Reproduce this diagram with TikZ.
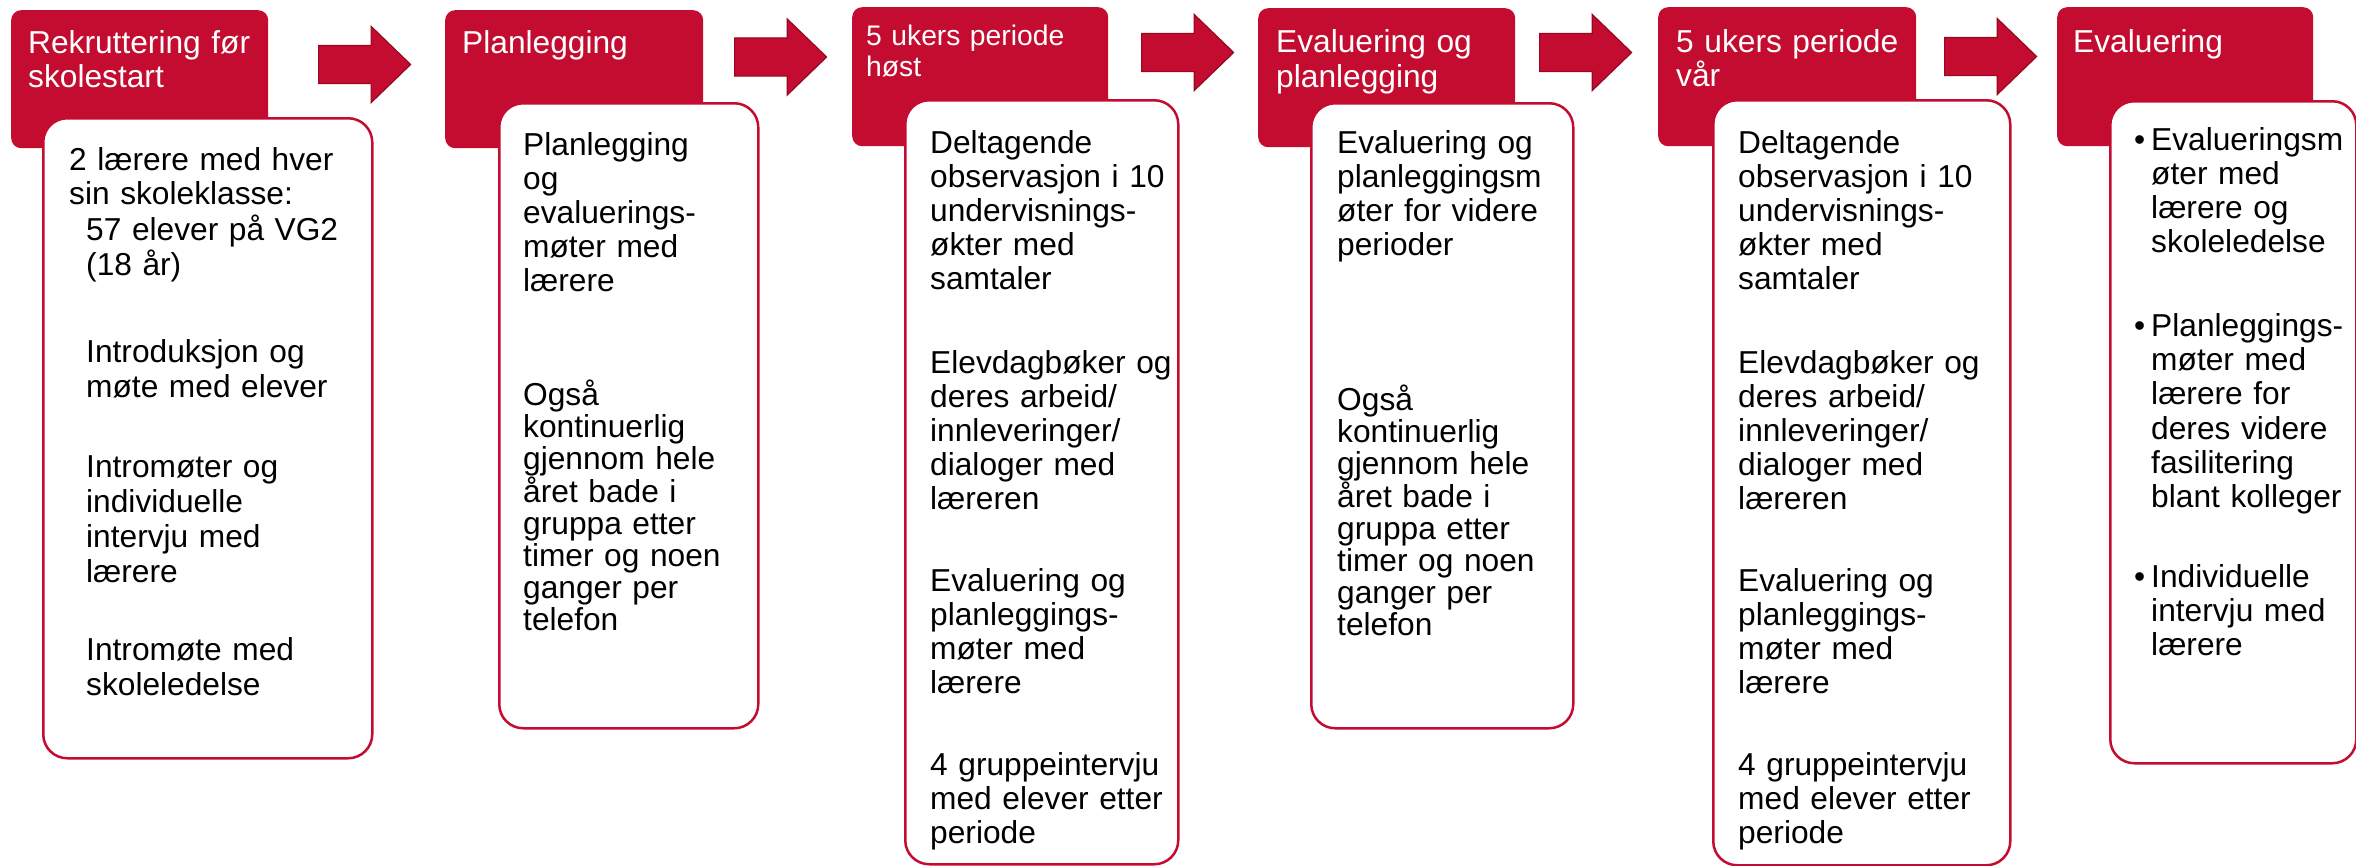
\documentclass[tikz,border=0pt]{standalone}
\usepackage{fontspec}
\setmainfont{Liberation Sans}
\usetikzlibrary{shapes.arrows}
\definecolor{uibred}{RGB}{196,12,48}
\definecolor{arrowedge}{RGB}{150,8,34}
\newcommand{\lead}[1]{\fontsize{31.7pt}{#1}\selectfont}
\newcommand{\bul}{\leavevmode\llap{•\hspace{6pt}}}

\begin{document}
\begin{tikzpicture}[x=1pt,y=-1pt,
	headbox/.style={fill=uibred,rounded corners=10pt,anchor=north west,inner sep=0pt},
	bodybox/.style={draw=uibred,line width=2.5pt,fill=white,rounded corners=24pt,anchor=north west,inner sep=0pt},
	flowarrow/.style={single arrow,fill=uibred,draw=arrowedge,line width=1.2pt,anchor=tail,
	                  minimum height=92pt,single arrow head extend=19pt,
	                  single arrow tip angle=88,inner xsep=0pt,inner ysep=18.5pt}]
	\useasboundingbox (0,0) rectangle (2356,865);

	\node[headbox,minimum width=257pt,minimum height=138pt] (hd1) at (11,10) {};
	\node[headbox,minimum width=258pt,minimum height=138pt] (hd2) at (445,10) {};
	\node[headbox,minimum width=256pt,minimum height=139pt] (hd3) at (852,7) {};
	\node[headbox,minimum width=257pt,minimum height=139pt] (hd4) at (1258,8) {};
	\node[headbox,minimum width=258pt,minimum height=139pt] (hd5) at (1658,7) {};
	\node[headbox,minimum width=256pt,minimum height=139pt] (hd6) at (2057,7) {};

	\node[bodybox,minimum width=329pt,minimum height=640pt] (bd1) at (42,117) {};
	\node[bodybox,minimum width=259pt,minimum height=625pt] (bd2) at (498,102) {};
	\node[bodybox,minimum width=273pt,minimum height=764pt] (bd3) at (904,99) {};
	\node[bodybox,minimum width=262pt,minimum height=625pt] (bd4) at (1310,102) {};
	\node[bodybox,minimum width=297pt,minimum height=765pt] (bd5) at (1712,99) {};
	\node[bodybox,minimum width=246pt,minimum height=662pt] (bd6) at (2109,100) {};

	\node[flowarrow] (ar1) at (318,64.5) {};
	\node[flowarrow] (ar2) at (734,57) {};
	\node[flowarrow] (ar3) at (1141,52.5) {};
	\node[flowarrow] (ar4) at (1539,52.5) {};
	\node[flowarrow] (ar5) at (1944,56.5) {};

	\begin{scope}[every node/.style={anchor=base west,inner sep=0pt,align=left,
	              text width=250pt,text=white,font=\lead{34pt}}]
		\node (ht1) at (28,53) {Rekruttering før\\skolestart};
		\node (ht2) at (462,53) {Planlegging};
		\node[font={\fontsize{28.3pt}{31pt}\selectfont}] (ht3) at (866,45) {5 ukers periode\\høst};
		\node[font=\lead{35pt}] (ht4) at (1276,52) {Evaluering og\\planlegging};
		\node (ht5) at (1676,52) {5 ukers periode\\vår};
		\node (ht6) at (2073,52) {Evaluering};
	\end{scope}

	\begin{scope}[every node/.style={anchor=base west,inner sep=0pt,align=left,
	              text width=290pt,text=black,font=\lead{34pt}}]
		\node (tx1a) at (69,170) {2 lærere med hver\\sin skoleklasse:};
		\node[font=\lead{35pt}] (tx1b) at (86,240) {57 elever på VG2\\(18 år)\\[52pt]
			Introduksjon og\\møte med elever\\[45pt]
			Intromøter og\\individuelle\\intervju med\\lærere\\[43pt]
			Intromøte med\\skoleledelse};
		\node (tx2a) at (523,155) {Planlegging\\og\\evaluerings-\\møter med\\lærere};
		\node[font=\lead{32pt}] (tx2b) at (523,405) {Også\\kontinuerlig\\gjennom hele\\året bade i\\
			gruppa etter\\timer og noen\\ganger per\\telefon};
		\node (tx3) at (930,153) {Deltagende\\observasjon i 10\\undervisnings-\\økter med\\samtaler\\[50pt]
			Elevdagbøker og\\deres arbeid/\\innleveringer/\\dialoger med\\læreren\\[48pt]
			Evaluering og\\planleggings-\\møter med\\lærere\\[48pt]
			4 gruppeintervju\\med elever etter\\periode};
		\node (tx4a) at (1337,153) {Evaluering og\\planleggingsm\\øter for videre\\perioder};
		\node[font=\lead{32pt}] (tx4b) at (1337,410) {Også\\kontinuerlig\\gjennom hele\\året bade i\\
			gruppa etter\\timer og noen\\ganger per\\telefon};
		\node (tx5) at (1738,153) {Deltagende\\observasjon i 10\\undervisnings-\\økter med\\samtaler\\[50pt]
			Elevdagbøker og\\deres arbeid/\\innleveringer/\\dialoger med\\læreren\\[48pt]
			Evaluering og\\planleggings-\\møter med\\lærere\\[48pt]
			4 gruppeintervju\\med elever etter\\periode};
		\node[font=\lead{34.2pt}] (tx6) at (2151,150) {\bul Evalueringsm\\øter med\\lærere og\\skoleledelse\\[49.6pt]
			\bul Planleggings-\\møter med\\lærere for\\deres videre\\fasilitering\\blant kolleger\\[45.8pt]
			\bul Individuelle\\intervju med\\lærere};
	\end{scope}
\end{tikzpicture}
\end{document}
